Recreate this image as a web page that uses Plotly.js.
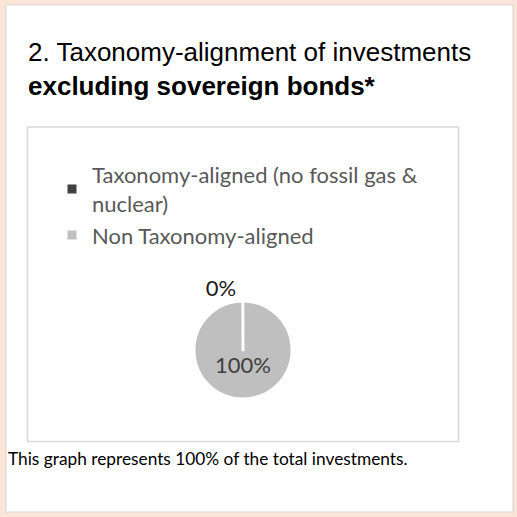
<!DOCTYPE html>
<html>
<head>
<meta charset="utf-8">
<script src="https://cdn.plot.ly/plotly-3.0.1.min.js"></script>
<style>html,body{margin:0;padding:0;background:#FBE5D6;}#chart{width:517px;height:517px;}</style>
</head>
<body>
<div id="chart"></div>
<script>
// Slices listed so the 0% slice closes the circle at 12 o'clock; legend order is reversed to match the reference
var categories = ["Non Taxonomy-aligned", "Taxonomy-aligned (no fossil gas &<br>nuclear)"];
var shares = [100, 0];
var sliceColors = ["#BFBFBF", "#404040"];
var titleText = "2. Taxonomy-alignment of investments<br><b>excluding sovereign bonds*</b>";
var footnote = "This graph represents 100% of the total investments.";

var W = 517, H = 517;
function px(x){ return x / W; }
function py(y){ return 1 - y / H; }

var trace = {
  type: "pie",
  labels: categories,
  values: shares,
  sort: false,
  direction: "clockwise",
  rotation: -0.2,
  marker: {colors: sliceColors, line: {color: "#FFFFFF", width: 3}},
  texttemplate: ["\u00a0<br>%{percent:.0%}", "%{percent:.0%}"],
  textposition: ["inside", "outside"],
  insidetextfont: {family: "Lato, 'Open Sans', sans-serif", size: 22, color: "#404040"},
  outsidetextfont: {family: "Lato, 'Open Sans', sans-serif", size: 22, color: "#1A1A1A"},
  hoverinfo: "label+percent",
  showlegend: true,
  domain: {x: [px(194), px(292)], y: [py(399), py(301)]}
};

var layout = {
  width: W, height: H,
  margin: {l: 0, r: 0, t: 0, b: 0},
  paper_bgcolor: "#FBE5D6",
  plot_bgcolor: "#FFFFFF",
  title: {
    text: titleText,
    font: {family: "'Liberation Sans', Arial, sans-serif", size: 26, color: "#000000"},
    xref: "container", yref: "container",
    x: px(28), xanchor: "left",
    y: py(61), yanchor: "top"
  },
  showlegend: true,
  legend: {
    x: px(52), xanchor: "left",
    y: py(154), yanchor: "top",
    font: {family: "Lato, 'Open Sans', sans-serif", size: 22, color: "#595959"},
    bgcolor: "rgba(0,0,0,0)",
    traceorder: "reversed"
  },
  shapes: [
    {type: "rect", xref: "paper", yref: "paper", x0: px(6), x1: px(513), y0: py(5), y1: py(512),
     fillcolor: "#FFFFFF", line: {color: "#D9D9D9", width: 1.2}, layer: "below"},
    {type: "rect", xref: "paper", yref: "paper", x0: px(27.5), x1: px(458.5), y0: py(127), y1: py(441.5),
     fillcolor: "rgba(0,0,0,0)", line: {color: "#D9D9D9", width: 1.6}, layer: "below"}
  ],
  annotations: [
    {text: footnote, xref: "paper", yref: "paper", x: px(6), y: py(446), xanchor: "left", yanchor: "top",
     showarrow: false, font: {family: "Lato, 'Open Sans', sans-serif", size: 17.3, color: "#000000"}}
  ]
};

Plotly.newPlot("chart", [trace], layout, {displayModeBar: false, staticPlot: true});
</script>
</body>
</html>
